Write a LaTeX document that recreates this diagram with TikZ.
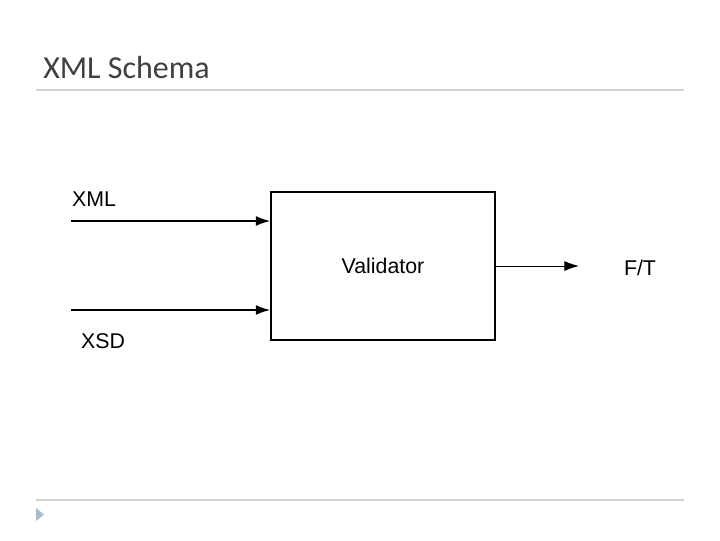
\documentclass[tikz,border=0pt]{standalone}
\usepackage{fontspec}
\setmainfont{Liberation Sans}
\newfontfamily\titlefont{Carlito}
\usetikzlibrary{arrows.meta}

\definecolor{titlegray}{HTML}{404040}
\definecolor{rulegray}{HTML}{D0D3D6}
\definecolor{bulletblue}{HTML}{A9BCCD}

\tikzset{
	label/.style={font=\fontsize{16}{18}\selectfont, inner sep=0pt},
	flow/.style={-{Latex[length=11pt,width=7.5pt]}, line width=1.5pt},
	thinflow/.style={-{Latex[length=11pt,width=7.5pt]}, line width=0.7pt}
}

\begin{document}
\begin{tikzpicture}[x=0.75pt, y=-0.75pt]
	\useasboundingbox (0,0) rectangle (720,540);
	\node[anchor=base west, inner sep=0pt, text=titlegray, font=\titlefont\fontsize{24}{28}\selectfont] (title) at (43,78) {XML Schema};
	\draw[rulegray, line width=1.5pt] (36,90) -- (684,90);
	\draw[rulegray, line width=1.5pt] (36,500) -- (684,500);
	\fill[bulletblue] (36,508) -- (44,514.5) -- (36,521) -- cycle;

	\node[draw, line width=0.8pt, minimum width=168pt, minimum height=111pt, inner sep=0pt, font=\fontsize{16}{18}\selectfont] (validator) at (383,266) {Validator};
	\coordinate (xmlin) at (71,221);
	\coordinate (xsdin) at (71,310);
	\coordinate (ftout) at (579,266);
	\node[label] (xml) at (94,199) {XML};
	\node[label] (xsd) at (103,341) {XSD};
	\node[label] (ft) at (640,268) {F/T};

	\draw[flow] (xmlin) -- (xmlin -| validator.west);
	\draw[flow] (xsdin) -- (xsdin -| validator.west);
	\draw[thinflow] (validator.east) -- (ftout);
\end{tikzpicture}
\end{document}
